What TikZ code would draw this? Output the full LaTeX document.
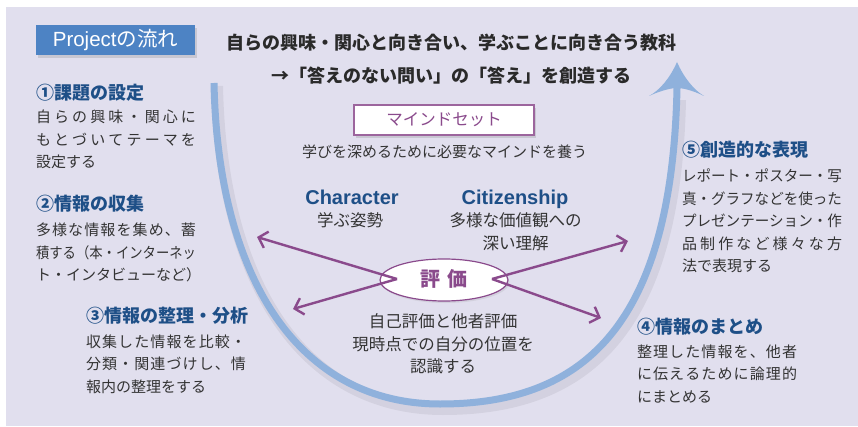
\documentclass[tikz,border=0pt]{standalone}
\usepackage{fontspec}
\usepackage{graphicx}
\usetikzlibrary{arrows.meta,shadows,shapes.geometric}
\newfontfamily\jp{Noto Sans CJK JP}
\newfontfamily\lat{Liberation Sans}
\definecolor{bgc}{HTML}{E1DFEE}
\definecolor{ublue}{HTML}{8FB1DC}
\definecolor{hblue}{HTML}{1E4F87}
\definecolor{pbox}{HTML}{4D83C4}
\definecolor{purp}{HTML}{8A4A8C}
\definecolor{txt}{HTML}{333333}
\definecolor{tdark}{HTML}{2A2A2A}
\newlength\jw
\setlength\jw{160pt}
\newsavebox\jlbox
\def\spreadtxt#1{\spreadfirst#1\relax}
\def\spreadfirst#1{#1\spreadrest}
\def\spreadrest#1{\ifx\relax#1\else\hfil#1\expandafter\spreadrest\fi}
\newcommand\jl[1]{\sbox\jlbox{#1}\ifdim\wd\jlbox>\jw\resizebox{\jw}{\height}{\usebox\jlbox}\else\hbox to\jw{\spreadtxt{#1}}\fi}
\begin{document}
\begin{tikzpicture}[x=1pt,y=-1pt,
  every node/.style={inner sep=0pt,outer sep=0pt},
  body/.style={anchor=west,align=left,text=txt,font=\jp\fontsize{15}{22.5}\selectfont},
  head/.style={anchor=west,text=hblue,font=\jp\bfseries\fontsize{18}{20}\selectfont},
  ctext/.style={align=center,text=txt,font=\jp\fontsize{16.5}{22.5}\selectfont},
  latin/.style={anchor=base,text=hblue,font=\lat\bfseries\fontsize{20}{22}\selectfont},
  parrow/.style={draw=purp,line width=2.4pt,-{Straight Barb[length=8pt,width=17pt]}}
]
\useasboundingbox (0,0) rectangle (858,427);
\fill[white] (0,0) rectangle (858,427);
\fill[bgc] (6,7) rectangle (858,426);

% title box
\node[fill=pbox,minimum width=159pt,minimum height=30pt,
  drop shadow={opacity=0.25,shadow xshift=2pt,shadow yshift=-3pt},
  text=white,font=\lat\fontsize{20.5}{22}\selectfont] (proj) at (115.5,40.5) {Project{\jp の流れ}};

% top titles
\node[text=tdark,font=\jp\bfseries\fontsize{18}{20}\selectfont] (t1) at (451.5,42.5) {自らの興味・関心と向き合い、学ぶことに向き合う教科};
\node[text=tdark,font=\jp\bfseries\fontsize{18}{20}\selectfont] (t2) at (451,75.5) {→「答えのない問い」の「答え」を創造する};

% U curve shadow
\draw[black,opacity=0.06,line width=12pt] (217,86) .. controls (221,283) and (303,409) .. (443,409) .. controls (583,409) and (675,335) .. (680,100);
% U curve
\draw[ublue,line width=7pt] (214,83) .. controls (218,280) and (300,404) .. (440,404) .. controls (580,404) and (672,330) .. (677,88);
\fill[ublue] (677,62) .. controls (670,78) and (660,90) .. (649,96) .. controls (662,90) and (672,88) .. (677,88) .. controls (682,88) and (692,90) .. (704,96) .. controls (694,90) and (684,78) .. (677,62) -- cycle;

% left column
\node[head] (h1) at (36,92.5) {①課題の設定};
\node[body] (b1) at (36,139.7) {\jl{自らの興味・関心に}\\\jl{もとづいてテーマを}\\設定する};
\node[head] (h2) at (36,203.5) {②情報の収集};
\node[body] (b2) at (36,252.5) {\jl{多様な情報を集め、蓄}\\\jl{積する（本・インターネッ}\\ト・インタビューなど）};
\node[head] (h3) at (86,315.5) {③情報の整理・分析};
\node[body] (b3) at (86,364) {\jl{収集した情報を比較・}\\\jl{分類・関連づけし、情}\\報内の整理をする};

% right column
\node[head] (h5) at (682,150) {⑤創造的な表現};
\node[body] (b5) at (682,221) {\jl{レポート・ポスター・写}\\\jl{真・グラフなどを使った}\\\jl{プレゼンテーション・作}\\\jl{品制作など様々な方}\\法で表現する};
\node[head] (h4) at (637,326.7) {④情報のまとめ};
\node[body] (b4) at (637,374) {\jl{整理した情報を、他者}\\\jl{に伝えるために論理的}\\にまとめる};

% center
\node[draw=purp!85,line width=1.2pt,fill=white,minimum width=180pt,minimum height=30pt,
  drop shadow={opacity=0.25,shadow xshift=2pt,shadow yshift=-3pt},
  text=purp,font=\jp\fontsize{16.5}{18}\selectfont] (ms) at (444,120) {マインドセット};
\node[text=txt,font=\jp\fontsize{15}{18}\selectfont] (msd) at (444.5,151.7) {学びを深めるために必要なマインドを養う};
\node[latin] (ch) at (352,204.2) {Character};
\node[latin] (ci) at (515,204.2) {Citizenship};
\node[ctext] (chd) at (350,220) {学ぶ姿勢};
\node[ctext] (cid) at (515.5,231.7) {多様な価値観への\\深い理解};

\node[ellipse,draw=purp,line width=1.2pt,fill=white,minimum width=128pt,minimum height=42pt,
  drop shadow={opacity=0.15,shadow xshift=1.5pt,shadow yshift=-2pt}] (hy) at (444,280) {};
\node[text=purp,font=\jp\bfseries\fontsize{20}{22}\selectfont] (hyt) at (444,278.5) {評\hspace{0.35em}価};

\coordinate (hl) at (397,279);
\coordinate (hr) at (492,279);
\coordinate (ul) at (257,237);
\coordinate (ll) at (293,309);
\coordinate (ur) at (628,241);
\coordinate (lr) at (601,318);
\draw[parrow] (hl) -- (ul);
\draw[parrow] (hl) -- (ll);
\draw[parrow] (hr) -- (ur);
\draw[parrow] (hr) -- (lr);

\node[ctext] (hyd) at (443,344.2) {自己評価と他者評価\\現時点での自分の位置を\\認識する};
\end{tikzpicture}
\end{document}
